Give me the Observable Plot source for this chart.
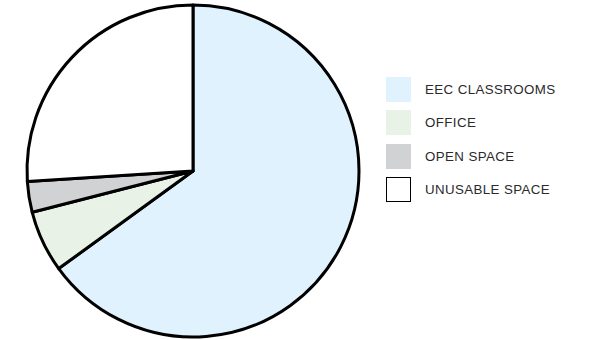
<!DOCTYPE html>
<html><head><meta charset="utf-8">
<script src="https://cdn.jsdelivr.net/npm/d3@7"></script>
<script src="https://cdn.jsdelivr.net/npm/@observablehq/plot@0.6"></script>
<style>
body{margin:0;background:#fff;}
#wrap{position:relative;width:601px;height:340px;}
#legend{position:absolute;left:386px;top:77px;font-family:"Liberation Sans",Arial,sans-serif;font-size:13.3px;letter-spacing:0.4px;color:#2a2a2a;}
.item{display:flex;align-items:center;height:25px;margin-bottom:8.3px;}
.sw{width:25px;height:25px;box-sizing:border-box;margin-right:14px;}
</style></head>
<body><div id="wrap"><div id="legend"></div></div>
<script>
const categories = ["EEC CLASSROOMS", "OFFICE", "OPEN SPACE", "UNUSABLE SPACE"];
const values = [65, 6, 3, 26];
const colors = ["#e0f2fd", "#e8f2e6", "#d1d2d4", "#ffffff"];

const data = categories.map((c, i) => ({category: c, value: values[i]}));

function pieMark(index, scales, vals, dimensions) {
  const cx = scales.x(0), cy = scales.y(0);
  const r = Math.abs(scales.x(1) - scales.x(0));
  const arcs = d3.pie().sort(null).value(d => d.value)(data);
  const arc = d3.arc().innerRadius(0).outerRadius(r);
  const g = d3.create("svg:g").attr("transform", `translate(${cx},${cy})`);
  g.selectAll("path").data(arcs).join("path")
    .attr("d", arc)
    .attr("fill", d => scales.color(d.data.category))
    .attr("stroke", "#000")
    .attr("stroke-width", 3)
    .attr("stroke-linejoin", "round");
  return g.node();
}

const chart = Plot.plot({
  width: 601, height: 340,
  margin: 0,
  x: {domain: [-1, 1], range: [27, 359], axis: null},
  y: {domain: [-1, 1], range: [337, 5], axis: null},
  color: {domain: categories, range: colors},
  marks: [pieMark]
});
document.getElementById("wrap").prepend(chart);

const legend = d3.select("#legend");
categories.forEach((c, i) => {
  const it = legend.append("div").attr("class", "item");
  it.append("div").attr("class", "sw").style("background", colors[i])
    .style("border", i === 3 ? "1px solid #000" : "none");
  it.append("span").text(c);
});
</script></body></html>
